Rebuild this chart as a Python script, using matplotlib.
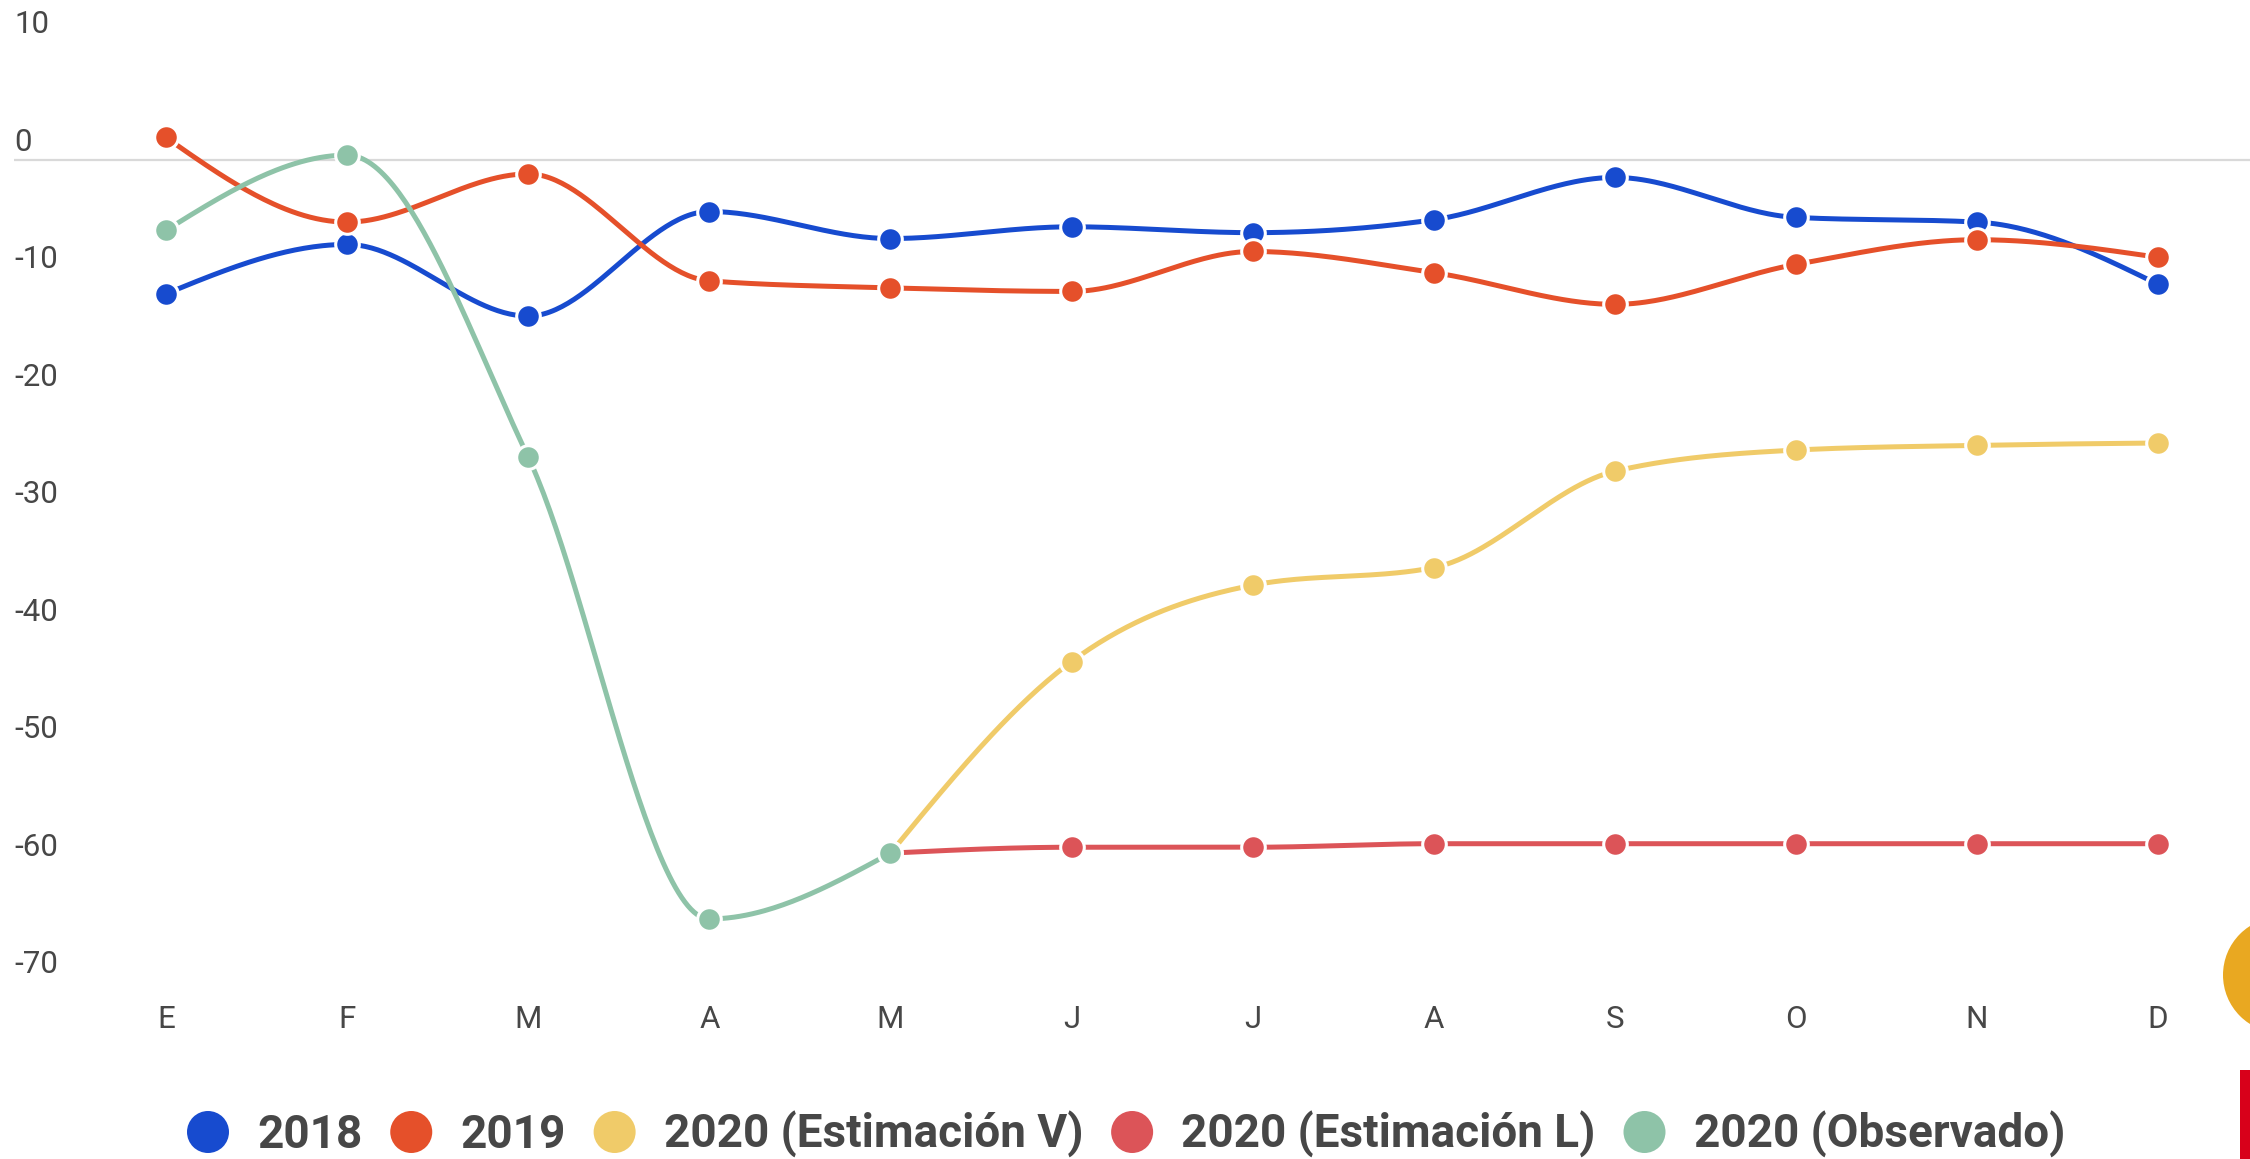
"""
Variación mensual (%) 2018, 2019 y 2020 (observado y estimaciones V / L).
Output: out.png (2250x1159)
"""

import numpy as np
import matplotlib
matplotlib.use("Agg")
import matplotlib.pyplot as plt
import matplotlib.transforms as mtransforms
from matplotlib.patches import Circle, Rectangle

plt.rcParams["font.family"] = ["Roboto", "DejaVu Sans"]

nan = np.nan

# ── Data ──────────────────────────────────────────────────────────────────────

MONTHS  = ["E", "F", "M", "A", "M", "J", "J", "A", "S", "O", "N", "D"]
Y_TICKS = [10, 0, -10, -20, -30, -40, -50, -60, -70]

S_2018  = [-11.4, -7.2, -13.3, -4.4, -6.7, -5.7, -6.2, -5.1, -1.5, -4.9, -5.3, -10.6]
S_2019  = [1.9, -5.3, -1.2, -10.3, -10.9, -11.2, -7.8, -9.6, -12.3, -8.9, -6.8, -8.3]
S_EST_V = [nan, nan, nan, nan, -59.0, -42.7, -36.2, -34.7, -26.5, -24.7, -24.3, -24.1]
S_EST_L = [nan, nan, nan, nan, -59.0, -58.5, -58.5, -58.2, -58.2, -58.2, -58.2, -58.2]
S_OBS   = [-6.0, 0.4, -25.3, -64.6, -59.0, nan, nan, nan, nan, nan, nan, nan]

LABELS = ["2018", "2019", "2020 (Estimación V)", "2020 (Estimación L)", "2020 (Observado)"]
SERIES = [S_2018, S_2019, S_EST_V, S_EST_L, S_OBS]
COLORS = ["#174BCF", "#E5502A", "#F0CB69", "#DC5458", "#8EC3A8"]

TEXT  = "#474747"
GRID  = "#D9D9D9"
W, H  = 2250, 1159


# ── Monotone cubic (same idea as d3.curveMonotoneX) ──────────────────────────

def monotone_curve(xs, ys, n=60):
    xs, ys = np.asarray(xs, float), np.asarray(ys, float)
    h = np.diff(xs)
    s = np.diff(ys) / h
    m = np.zeros(len(xs))
    if len(xs) == 2:
        m[:] = s[0]
    else:
        for i in range(1, len(xs) - 1):
            h0, h1, s0, s1 = h[i - 1], h[i], s[i - 1], s[i]
            p = (s0 * h1 + s1 * h0) / (h0 + h1)
            m[i] = (np.sign(s0) + np.sign(s1)) * min(abs(s0), abs(s1), 0.5 * abs(p))
        m[0] = (3 * s[0] - m[1]) / 2
        m[-1] = (3 * s[-1] - m[-2]) / 2

    out_x, out_y = [], []
    t = np.linspace(0, 1, n)
    for i in range(len(xs) - 1):
        h00 = 2 * t**3 - 3 * t**2 + 1
        h10 = t**3 - 2 * t**2 + t
        h01 = -2 * t**3 + 3 * t**2
        h11 = t**3 - t**2
        out_x.append(xs[i] + t * h[i])
        out_y.append(h00 * ys[i] + h10 * h[i] * m[i] + h01 * ys[i + 1] + h11 * h[i] * m[i + 1])
    return np.concatenate(out_x), np.concatenate(out_y)


# ── Figure / axes (pixel layout) ──────────────────────────────────────────────

fig = plt.figure(figsize=(W / 100, H / 100), dpi=100)

AX_LEFT, AX_BOTTOM_PX = 14, 1000
X0_PX, STEP_PX = 166, 181.1         # pixel of "E" and month spacing
ax = fig.add_axes([AX_LEFT / W, 1 - AX_BOTTOM_PX / H, (W - AX_LEFT) / W, AX_BOTTOM_PX / H])
ax.set_xlim(-(X0_PX - AX_LEFT) / STEP_PX, 11 + (W - (X0_PX + 11 * STEP_PX)) / STEP_PX)
ax.set_ylim(-71.5, 13.6)
ax.axis("off")

ax.axhline(0, color=GRID, lw=1.6, zorder=1)

x = np.arange(len(MONTHS))
for vals, col in zip(SERIES, COLORS):
    vals = np.asarray(vals, float)
    ok = ~np.isnan(vals)
    cx, cy = monotone_curve(x[ok], vals[ok])
    ax.plot(cx, cy, color=col, lw=3.6, solid_capstyle="butt", zorder=2)
    ax.plot(x[ok], vals[ok], "o", ms=17, color=col, mec="white", mew=2.2, zorder=2)

# y labels sit just above their (invisible) gridlines, left aligned
ytrans = mtransforms.blended_transform_factory(ax.transAxes, ax.transData)
for v in Y_TICKS:
    ax.annotate(str(v), xy=(0, v), xycoords=ytrans, xytext=(0, 6.5),
                textcoords="offset points", ha="left", va="baseline",
                fontsize=22.5, color=TEXT)

xtrans = mtransforms.blended_transform_factory(ax.transData, ax.transAxes)
for i, m in enumerate(MONTHS):
    ax.text(i, 1 - 1028 / AX_BOTTOM_PX, m, transform=xtrans, ha="center",
            va="baseline", fontsize=22.5, color=TEXT)


# ── Legend + cut-off logos, drawn in pixel coordinates ───────────────────────

lax = fig.add_axes([0, 0, 1, 1], zorder=5)
lax.set_xlim(0, W)
lax.set_ylim(H, 0)
lax.axis("off")

fig.canvas.draw()
renderer = fig.canvas.get_renderer()

cx_px = 208
for lab, col in zip(LABELS, COLORS):
    lax.add_patch(Circle((cx_px, 1132), 21, color=col, lw=0))
    t = lax.text(cx_px + 49, 1148, lab, ha="left", va="baseline",
                 fontsize=33, fontweight="bold", color=TEXT)
    width = t.get_window_extent(renderer).width
    cx_px = cx_px + 49 + width + 49

lax.add_patch(Circle((2281, 975), 58, color="#E9A821", lw=0))
lax.add_patch(Rectangle((2240, 1070), 12, 95, color="#D8001A", lw=0))

fig.savefig("out.png", dpi=100)
print("Saved: out.png")
